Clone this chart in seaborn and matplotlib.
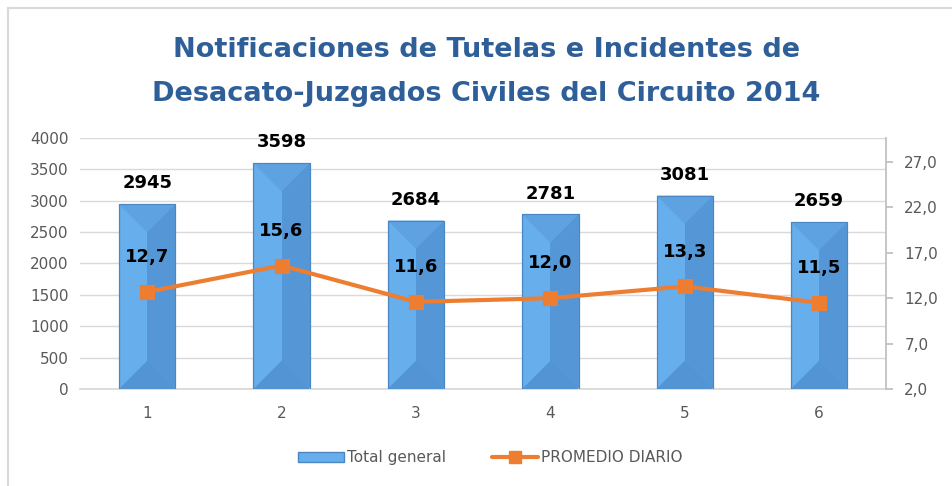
import matplotlib
matplotlib.use("Agg")
import matplotlib.pyplot as plt
import seaborn as sns
import pandas as pd
from matplotlib.patches import Patch, Polygon
from matplotlib.lines import Line2D

# data
categorias = ["1", "2", "3", "4", "5", "6"]
total_general = [2945, 3598, 2684, 2781, 3081, 2659]
promedio_diario = [12.7, 15.6, 11.6, 12.0, 13.3, 11.5]
ticks_izq = [0, 500, 1000, 1500, 2000, 2500, 3000, 3500, 4000]
ticks_der = [2.0, 7.0, 12.0, 17.0, 22.0, 27.0]

df = pd.DataFrame({"mes": categorias, "total": total_general, "promedio": promedio_diario})

sns.set_theme(style="white")
plt.rcParams["font.family"] = ["DejaVu Sans"]

gris = "#595959"
azul = "#66AEEC"
naranja = "#ED7D31"

fig = plt.figure(figsize=(9.52, 4.86), dpi=100)
ax = fig.add_axes([0.084, 0.1996, 0.847, 0.5165])

sns.barplot(data=df, x="mes", y="total", ax=ax, color=azul, width=0.42,
            saturation=1, edgecolor="#4A86C2", linewidth=0.8)
ax.set_ylim(0, 4000)
ax.set_xlim(-0.5, 5.5)
ax.set_yticks(ticks_izq)
ax.yaxis.grid(True, color="#D9D9D9", linewidth=1)
ax.set_axisbelow(True)
ax.set_xlabel("")
ax.set_ylabel("")
ax.tick_params(axis="both", colors=gris, labelsize=11, length=0, pad=8)
ax.tick_params(axis="x", pad=12)
for s in ["left", "top", "right"]:
    ax.spines[s].set_visible(False)
ax.spines["bottom"].set_color("#D9D9D9")

# bevel decoration on each bar
fig.canvas.draw()
bbox = ax.get_window_extent()
px_y = bbox.height / 4000.0
px_x = bbox.width / 6.0
for p in list(ax.patches):
    x0, w, h = p.get_x(), p.get_width(), p.get_height()
    x1 = x0 + w
    xc = x0 + w / 2
    d = (w / 2) * px_x / px_y
    # darker right half
    ax.add_patch(Polygon([[xc, 0], [x1, 0], [x1, h], [xc, h]], closed=True,
                         facecolor="#5596D6", edgecolor="none", zorder=2.5))
    # top bevel triangle
    ax.add_patch(Polygon([[x0, h], [x1, h], [xc, h - d]], closed=True,
                         facecolor="#5FA2E2", edgecolor="none", zorder=2.6))
    # bottom bevel triangle
    ax.add_patch(Polygon([[x0, 0], [x1, 0], [xc, d]], closed=True,
                         facecolor="#5394D4", edgecolor="none", zorder=2.6))
    ax.add_patch(Polygon([[x0, 0], [x0, h], [x1, h], [x1, 0]], closed=True,
                         facecolor="none", edgecolor="#4A86C2", linewidth=0.8, zorder=2.7))

for i, v in enumerate(total_general):
    ax.annotate(str(v), (i, v), xytext=(0, 15), textcoords="offset points",
                ha="center", va="center", fontsize=13, fontweight="bold", color="black")

ax2 = ax.twinx()
sns.pointplot(data=df, x="mes", y="promedio", ax=ax2, color=naranja, markers="s",
              markersize=9, linewidth=3, linestyles="-")
ax2.set_ylim(2.0, 29.65)
ax2.set_xlim(-0.5, 5.5)
ax2.set_yticks(ticks_der)
ax2.set_yticklabels([f"{t:.1f}".replace(".", ",") for t in ticks_der])
ax2.set_ylabel("")
ax2.tick_params(axis="y", colors=gris, labelsize=11, length=5, pad=8, direction="out")
ax2.tick_params(axis="y", color="#BFBFBF")
for s in ["left", "top", "bottom"]:
    ax2.spines[s].set_visible(False)
ax2.spines["right"].set_color("#BFBFBF")
ax2.grid(False)

for i, v in enumerate(promedio_diario):
    ax2.annotate(f"{v:.1f}".replace(".", ","), (i, v), xytext=(0, 25), textcoords="offset points",
                 ha="center", va="center", fontsize=13, fontweight="bold", color="black")

fig.text(0.511, 0.852, "Notificaciones de Tutelas e Incidentes de\nDesacato-Juzgados Civiles del Circuito 2014",
         ha="center", va="center", fontsize=19.5, fontweight="bold", color="#2F5F98",
         linespacing=1.9)

handles = [Patch(facecolor=azul, edgecolor="#4A86C2"),
           Line2D([0], [0], color=naranja, linewidth=3, marker="s", markersize=9)]
leg = fig.legend(handles, ["Total general", "PROMEDIO DIARIO"], loc="center",
                 bbox_to_anchor=(0.515, 0.058), ncol=2, frameon=False, fontsize=11,
                 handlelength=3, columnspacing=3, handletextpad=0.2)
for t in leg.get_texts():
    t.set_color(gris)

# chart area border
fig.add_artist(Line2D([0.0085, 0.0085], [0, 0.984], color="#D9D9D9", linewidth=1.5,
                      transform=fig.transFigure))
fig.add_artist(Line2D([0.0085, 1], [0.984, 0.984], color="#D9D9D9", linewidth=1.5,
                      transform=fig.transFigure))

fig.savefig("out.png", dpi=100)
